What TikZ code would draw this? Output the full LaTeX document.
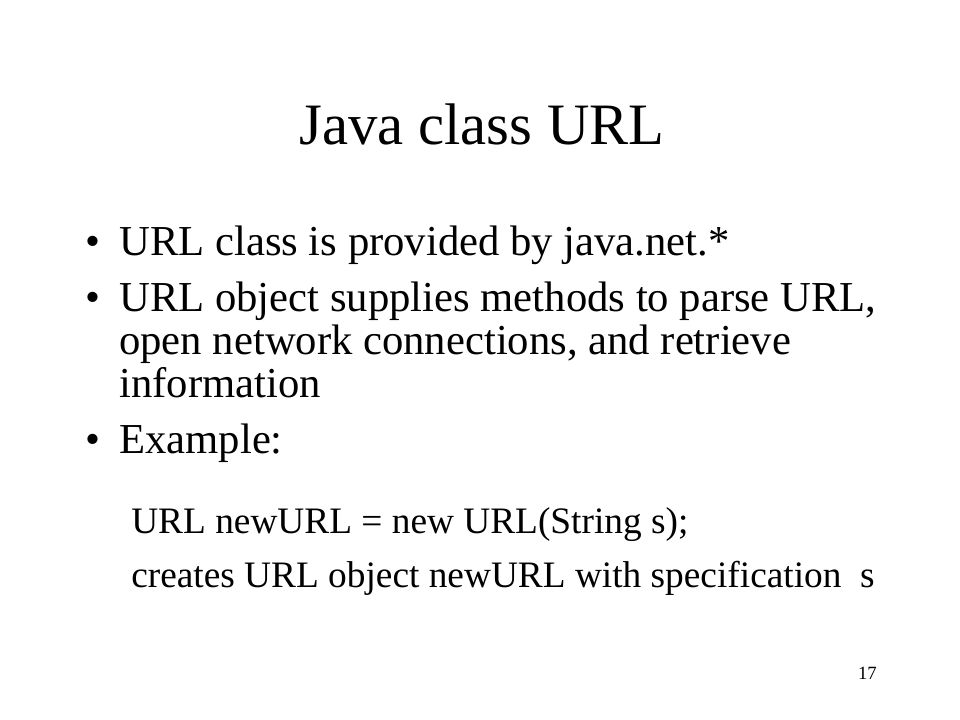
\documentclass[tikz,border=0pt]{standalone}
\usepackage{fontspec}
\setmainfont{Liberation Serif}
\usetikzlibrary{positioning}

\begin{document}
\begin{tikzpicture}[
  x=0.75bp, y=-0.75bp,
  titletext/.style={anchor=base, inner sep=0pt, font=\fontsize{44bp}{44bp}\selectfont},
  bulletmark/.style={anchor=base west, inner sep=0pt, font=\fontsize{32bp}{32bp}\selectfont},
  bullettext/.style={anchor=base west, inner sep=0pt, font=\fontsize{32bp}{32bp}\selectfont},
  subtext/.style={anchor=base west, inner sep=0pt, font=\fontsize{28bp}{28bp}\selectfont},
  pagenum/.style={anchor=base east, inner sep=0pt, font=\fontsize{14bp}{14bp}\selectfont},
]
  \useasboundingbox[fill=white] (0,0) rectangle (960,720);

  % Title
  \node[titletext] (title) at (482,144) {Java class URL};

  % Bullet 1
  \node[bulletmark] (b1) at (85,255) {•};
  \node[bullettext] (l1) at (119,255) {URL class is provided by java.net.*};

  % Bullet 2 (three lines)
  \node[bulletmark] (b2) at (85,311) {•};
  \node[bullettext] (l2a) at (119,311) {URL object supplies methods to parse URL,};
  \node[bullettext] (l2b) at (119,354) {open network connections, and retrieve};
  \node[bullettext] (l2c) at (119,397) {information};

  % Bullet 3
  \node[bulletmark] (b3) at (85,453) {•};
  \node[bullettext] (l3) at (119,453) {Example:};

  % Sub lines
  \node[subtext] (s1) at (131,533) {URL newURL = new URL(String s);};
  \node[subtext] (s2) at (131,587) {creates URL object newURL with specification\ \ s};

  % Page number
  \node[pagenum] (page) at (877,679) {17};
\end{tikzpicture}
\end{document}
